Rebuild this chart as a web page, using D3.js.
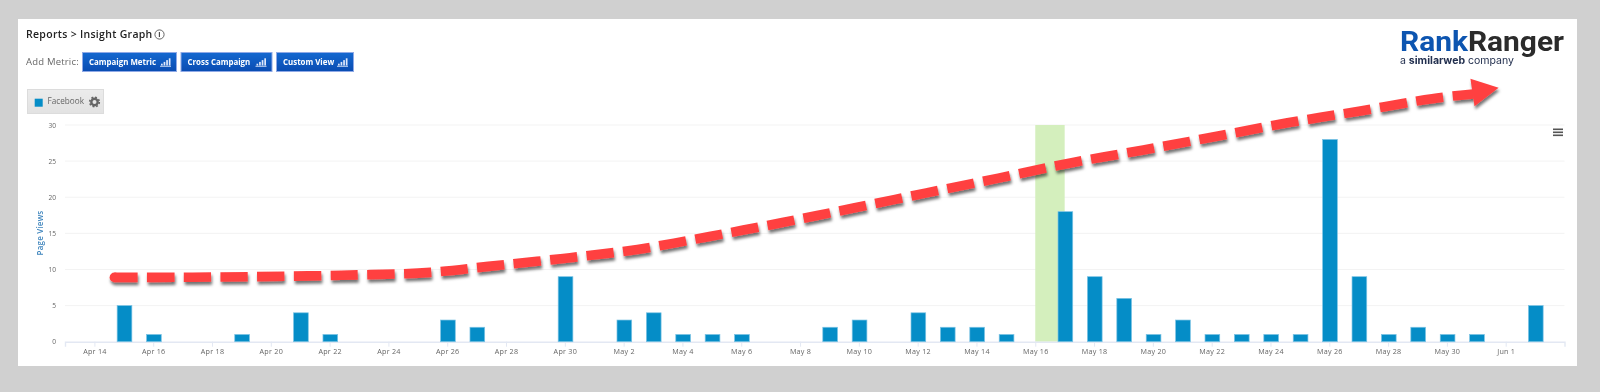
<!DOCTYPE html>
<html>
<head>
<meta charset="utf-8">
<title>Insight Graph</title>
<script src="https://cdn.jsdelivr.net/npm/d3@7"></script>
<style>
  html, body { margin: 0; padding: 0; background: #d0d0d0; overflow: hidden; }
  svg { display: block; filter: blur(0.4px); }
  text { font-family: "Open Sans", sans-serif; }
</style>
</head>
<body>
<svg id="chart" width="1600" height="392"></svg>
<script>
  // bars
  var barDates = ['Apr 15', 'Apr 16', 'Apr 19', 'Apr 21', 'Apr 22', 'Apr 26', 'Apr 27', 'Apr 30',
    'May 2', 'May 3', 'May 4', 'May 5', 'May 6', 'May 9', 'May 10', 'May 12', 'May 13', 'May 14', 'May 15',
    'May 17', 'May 18', 'May 19', 'May 20', 'May 21', 'May 22', 'May 23', 'May 24', 'May 25', 'May 26',
    'May 27', 'May 28', 'May 29', 'May 30', 'May 31', 'Jun 2'];
  var pageViews = [5, 1, 1, 4, 1, 3, 2, 9,
    3, 4, 1, 1, 1, 2, 3, 4, 2, 2, 1,
    18, 9, 6, 1, 3, 1, 1, 1, 1, 28,
    9, 1, 2, 1, 1, 5];

  // axes
  var xTickLabels = ['Apr 14', 'Apr 16', 'Apr 18', 'Apr 20', 'Apr 22', 'Apr 24', 'Apr 26', 'Apr 28', 'Apr 30',
    'May 2', 'May 4', 'May 6', 'May 8', 'May 10', 'May 12', 'May 14', 'May 16', 'May 18', 'May 20', 'May 22',
    'May 24', 'May 26', 'May 28', 'May 30', 'Jun 1'];
  var yTicks = [0, 5, 10, 15, 20, 25, 30];
  var highlightDates = ['May 16', 'May 17'];

  // hand drawn trend arrow, in days after Apr 14 / page views
  var arrowDays = [0.68, 2.9, 5.3, 8.4, 11.43, 13.4, 15.95, 18.47, 20.92, 23.4, 25.82, 28.3, 30.75, 33.2, 35.68, 38.13, 40.58, 43.06, 45.5, 46.9];
  var arrowViews = [8.9, 8.92, 9.0, 9.2, 9.6, 10.43, 11.53, 12.78, 14.57, 16.5, 18.5, 20.6, 22.65, 24.75, 26.55, 28.4, 30.3, 31.95, 33.65, 34.3];
  var arrowHeadDays = [46.8, 47.76, 46.94];
  var arrowHeadViews = [36.4, 35.15, 32.6];

  var buttons = ['Campaign Metric', 'Cross Campaign', 'Custom View'];

  var svg = d3.select('#chart');
  var parseDay = function (s) { return d3.utcParse('%b %d %Y')(s + ' 2021'); };
  var apr14 = parseDay('Apr 14');

  var x = d3.scaleUtc()
    .domain([parseDay('Apr 13'), parseDay('Jun 3')])
    .range([65, 1564.5]);
  var y = d3.scaleLinear()
    .domain([0, 30])
    .range([341.7, 125]);
  var dayX = function (d) { return x(apr14.getTime() + d * 864e5); };

  var defs = svg.append('defs');
  var grad = defs.append('linearGradient').attr('id', 'btn').attr('x1', 0).attr('x2', 0).attr('y1', 0).attr('y2', 1);
  grad.append('stop').attr('offset', 0).attr('stop-color', '#1468d0');
  grad.append('stop').attr('offset', 1).attr('stop-color', '#0a4cb2');
  var legendGrad = defs.append('linearGradient').attr('id', 'legendBg').attr('x1', 0).attr('x2', 0).attr('y1', 0).attr('y2', 1);
  legendGrad.append('stop').attr('offset', 0).attr('stop-color', '#ececec');
  legendGrad.append('stop').attr('offset', 1).attr('stop-color', '#e2e2e2');
  var shadow = defs.append('filter').attr('id', 'arrowShadow')
    .attr('x', '-5%').attr('y', '-20%').attr('width', '110%').attr('height', '150%');
  shadow.append('feDropShadow').attr('dx', 1).attr('dy', 3).attr('stdDeviation', 1.6)
    .attr('flood-color', '#000').attr('flood-opacity', 0.55);

  // card
  svg.append('rect').attr('x', 18).attr('y', 19).attr('width', 1559).attr('height', 347).attr('fill', '#fff');

  // header
  svg.append('text').attr('x', 26).attr('y', 38)
    .attr('font-size', 10.5).attr('font-weight', 600).attr('fill', '#222').attr('letter-spacing', 0.3)
    .text('Reports > Insight Graph');
  svg.append('circle').attr('cx', 159.5).attr('cy', 34.5).attr('r', 4.6)
    .attr('fill', 'none').attr('stroke', '#555').attr('stroke-width', 0.9);
  svg.append('text').attr('x', 159.5).attr('y', 37.2).attr('text-anchor', 'middle')
    .attr('font-size', 7.5).attr('font-weight', 700).attr('fill', '#444').text('i');

  svg.append('text').attr('x', 26).attr('y', 64.5)
    .attr('font-size', 9.5).attr('fill', '#666').attr('letter-spacing', 0.2).text('Add Metric:');

  var btnX = [82, 180.5, 276];
  var btnW = [94, 91, 77];
  buttons.forEach(function (label, i) {
    var g = svg.append('g').attr('transform', 'translate(' + btnX[i] + ',52)');
    g.append('rect').attr('x', 0.5).attr('y', 0.5).attr('width', btnW[i]).attr('height', 19)
      .attr('fill', 'url(#btn)').attr('stroke', '#8fa9e6');
    g.append('text').attr('x', 7).attr('y', 13).attr('font-size', 7.9).attr('font-weight', 700)
      .attr('fill', '#fff').text(label);
    // little bars icon
    d3.range(4).forEach(function (k) {
      g.append('rect').attr('x', btnW[i] - 15 + k * 2.6).attr('y', 13.5 - (k + 1) * 1.8)
        .attr('width', 1.7).attr('height', (k + 1) * 1.8).attr('fill', '#dfe8fb');
    });
    g.append('rect').attr('x', btnW[i] - 16).attr('y', 13.8).attr('width', 11).attr('height', 0.9).attr('fill', '#dfe8fb');
  });

  // legend button
  svg.append('rect').attr('x', 27.5).attr('y', 89.5).attr('width', 76).attr('height', 24)
    .attr('fill', 'url(#legendBg)').attr('stroke', '#dcdcdc');
  svg.append('rect').attr('x', 34.7).attr('y', 98.7).attr('width', 8).attr('height', 8).attr('fill', '#058dc7');
  svg.append('text').attr('x', 47.5).attr('y', 104).attr('font-size', 8.2).attr('fill', '#666').text('Facebook');
  svg.append('circle').attr('cx', 94.5).attr('cy', 102).attr('r', 3.2)
    .attr('fill', 'none').attr('stroke', '#666').attr('stroke-width', 2.4);
  svg.append('circle').attr('cx', 94.5).attr('cy', 102).attr('r', 4.8)
    .attr('fill', 'none').attr('stroke', '#666').attr('stroke-width', 1.6).attr('stroke-dasharray', '1.9 1.87');

  // logo
  var logo = svg.append('text').attr('x', 1400).attr('y', 50.5).attr('font-size', 27)
    .style('font-family', 'Roboto, sans-serif').attr('font-weight', 700)
    .attr('textLength', 164).attr('lengthAdjust', 'spacingAndGlyphs');
  logo.append('tspan').attr('fill', '#0d55b0').text('Rank');
  logo.append('tspan').attr('fill', '#2b2b2b').text('Ranger');
  var sub = svg.append('text').attr('x', 1400).attr('y', 64).attr('font-size', 10.4)
    .style('font-family', 'Inter, sans-serif').attr('fill', '#23304f')
    .attr('textLength', 114).attr('lengthAdjust', 'spacingAndGlyphs');
  sub.append('tspan').text('a ');
  sub.append('tspan').attr('font-weight', 700).text('similarweb');
  sub.append('tspan').text(' company');

  // grid
  svg.append('g').selectAll('line').data(yTicks.slice(1)).enter().append('line')
    .attr('x1', 65).attr('x2', 1564.5)
    .attr('y1', function (d) { return y(d); })
    .attr('y2', function (d) { return y(d); })
    .attr('stroke', '#f3f3f3');

  // highlighted day
  svg.append('rect')
    .attr('x', x(parseDay(highlightDates[0])))
    .attr('width', x(parseDay(highlightDates[1])) - x(parseDay(highlightDates[0])))
    .attr('y', y(30))
    .attr('height', y(0) - y(30))
    .attr('fill', '#d4efbd');

  // axes
  var xAxis = d3.axisBottom(x)
    .tickValues(xTickLabels.map(parseDay))
    .tickFormat(d3.utcFormat('%b %-d'))
    .tickSize(5);
  var gx = svg.append('g').attr('transform', 'translate(0,' + y(0) + ')').call(xAxis);
  gx.select('.domain').attr('stroke', '#e3e8f3').attr('stroke-width', 1.4);
  gx.selectAll('.tick line').attr('stroke', '#e3e8f3');
  gx.selectAll('.tick text').attr('font-size', 7.2).attr('fill', '#666').attr('letter-spacing', 0.25)
    .style('font-family', '"Open Sans", sans-serif').attr('y', 7).attr('dy', '0.71em');

  var yAxis = d3.axisLeft(y).tickValues(yTicks).tickSize(0).tickPadding(0);
  var gy = svg.append('g').attr('transform', 'translate(56,0)').call(yAxis);
  gy.select('.domain').remove();
  gy.selectAll('.tick text').attr('font-size', 6.6).attr('fill', '#666')
    .style('font-family', '"Open Sans", sans-serif');

  svg.append('text').attr('transform', 'translate(43,233) rotate(-90)').attr('text-anchor', 'middle')
    .attr('font-size', 8).attr('font-weight', 600).attr('fill', '#3f85bd').attr('letter-spacing', 0.2)
    .text('Page Views');

  // bars
  var barWidth = 14.7;
  svg.append('g').selectAll('.bar').data(barDates).enter().append('rect')
    .attr('class', 'bar')
    .attr('x', function (d) { return x(parseDay(d)) - barWidth / 2 + 0.7; })
    .attr('width', barWidth)
    .attr('y', function (d, i) { return y(pageViews[i]); })
    .attr('height', function (d, i) { return y(0) - y(pageViews[i]); })
    .attr('fill', '#058dc7')
    .attr('stroke', '#7cc3e4')
    .attr('stroke-width', 0.7);

  // menu icon
  [0, 3, 6].forEach(function (dy) {
    svg.append('rect').attr('x', 1553).attr('y', 128.5 + dy).attr('width', 10).attr('height', 1.6).attr('fill', '#555');
  });

  // trend arrow
  var arrow = svg.append('g').attr('filter', 'url(#arrowShadow)');
  var arrowLine = d3.line()
    .x(function (d) { return dayX(d); })
    .y(function (d, i) { return y(arrowViews[i]); })
    .curve(d3.curveCatmullRom);
  arrow.append('path')
    .attr('d', arrowLine(arrowDays))
    .attr('fill', 'none')
    .attr('stroke', '#ff4040')
    .attr('stroke-width', 9.6)
    .attr('stroke-dasharray', '27.3 9.4')
    .attr('stroke-dashoffset', 4);
  arrow.append('circle').attr('cx', dayX(arrowDays[0])).attr('cy', y(arrowViews[0])).attr('r', 4.8).attr('fill', '#ff4040');
  arrow.append('path')
    .attr('d', d3.line()
      .x(function (d) { return dayX(d); })
      .y(function (d, i) { return y(arrowHeadViews[i]); })(arrowHeadDays) + 'Z')
    .attr('fill', '#ff4040');
</script>
</body>
</html>
